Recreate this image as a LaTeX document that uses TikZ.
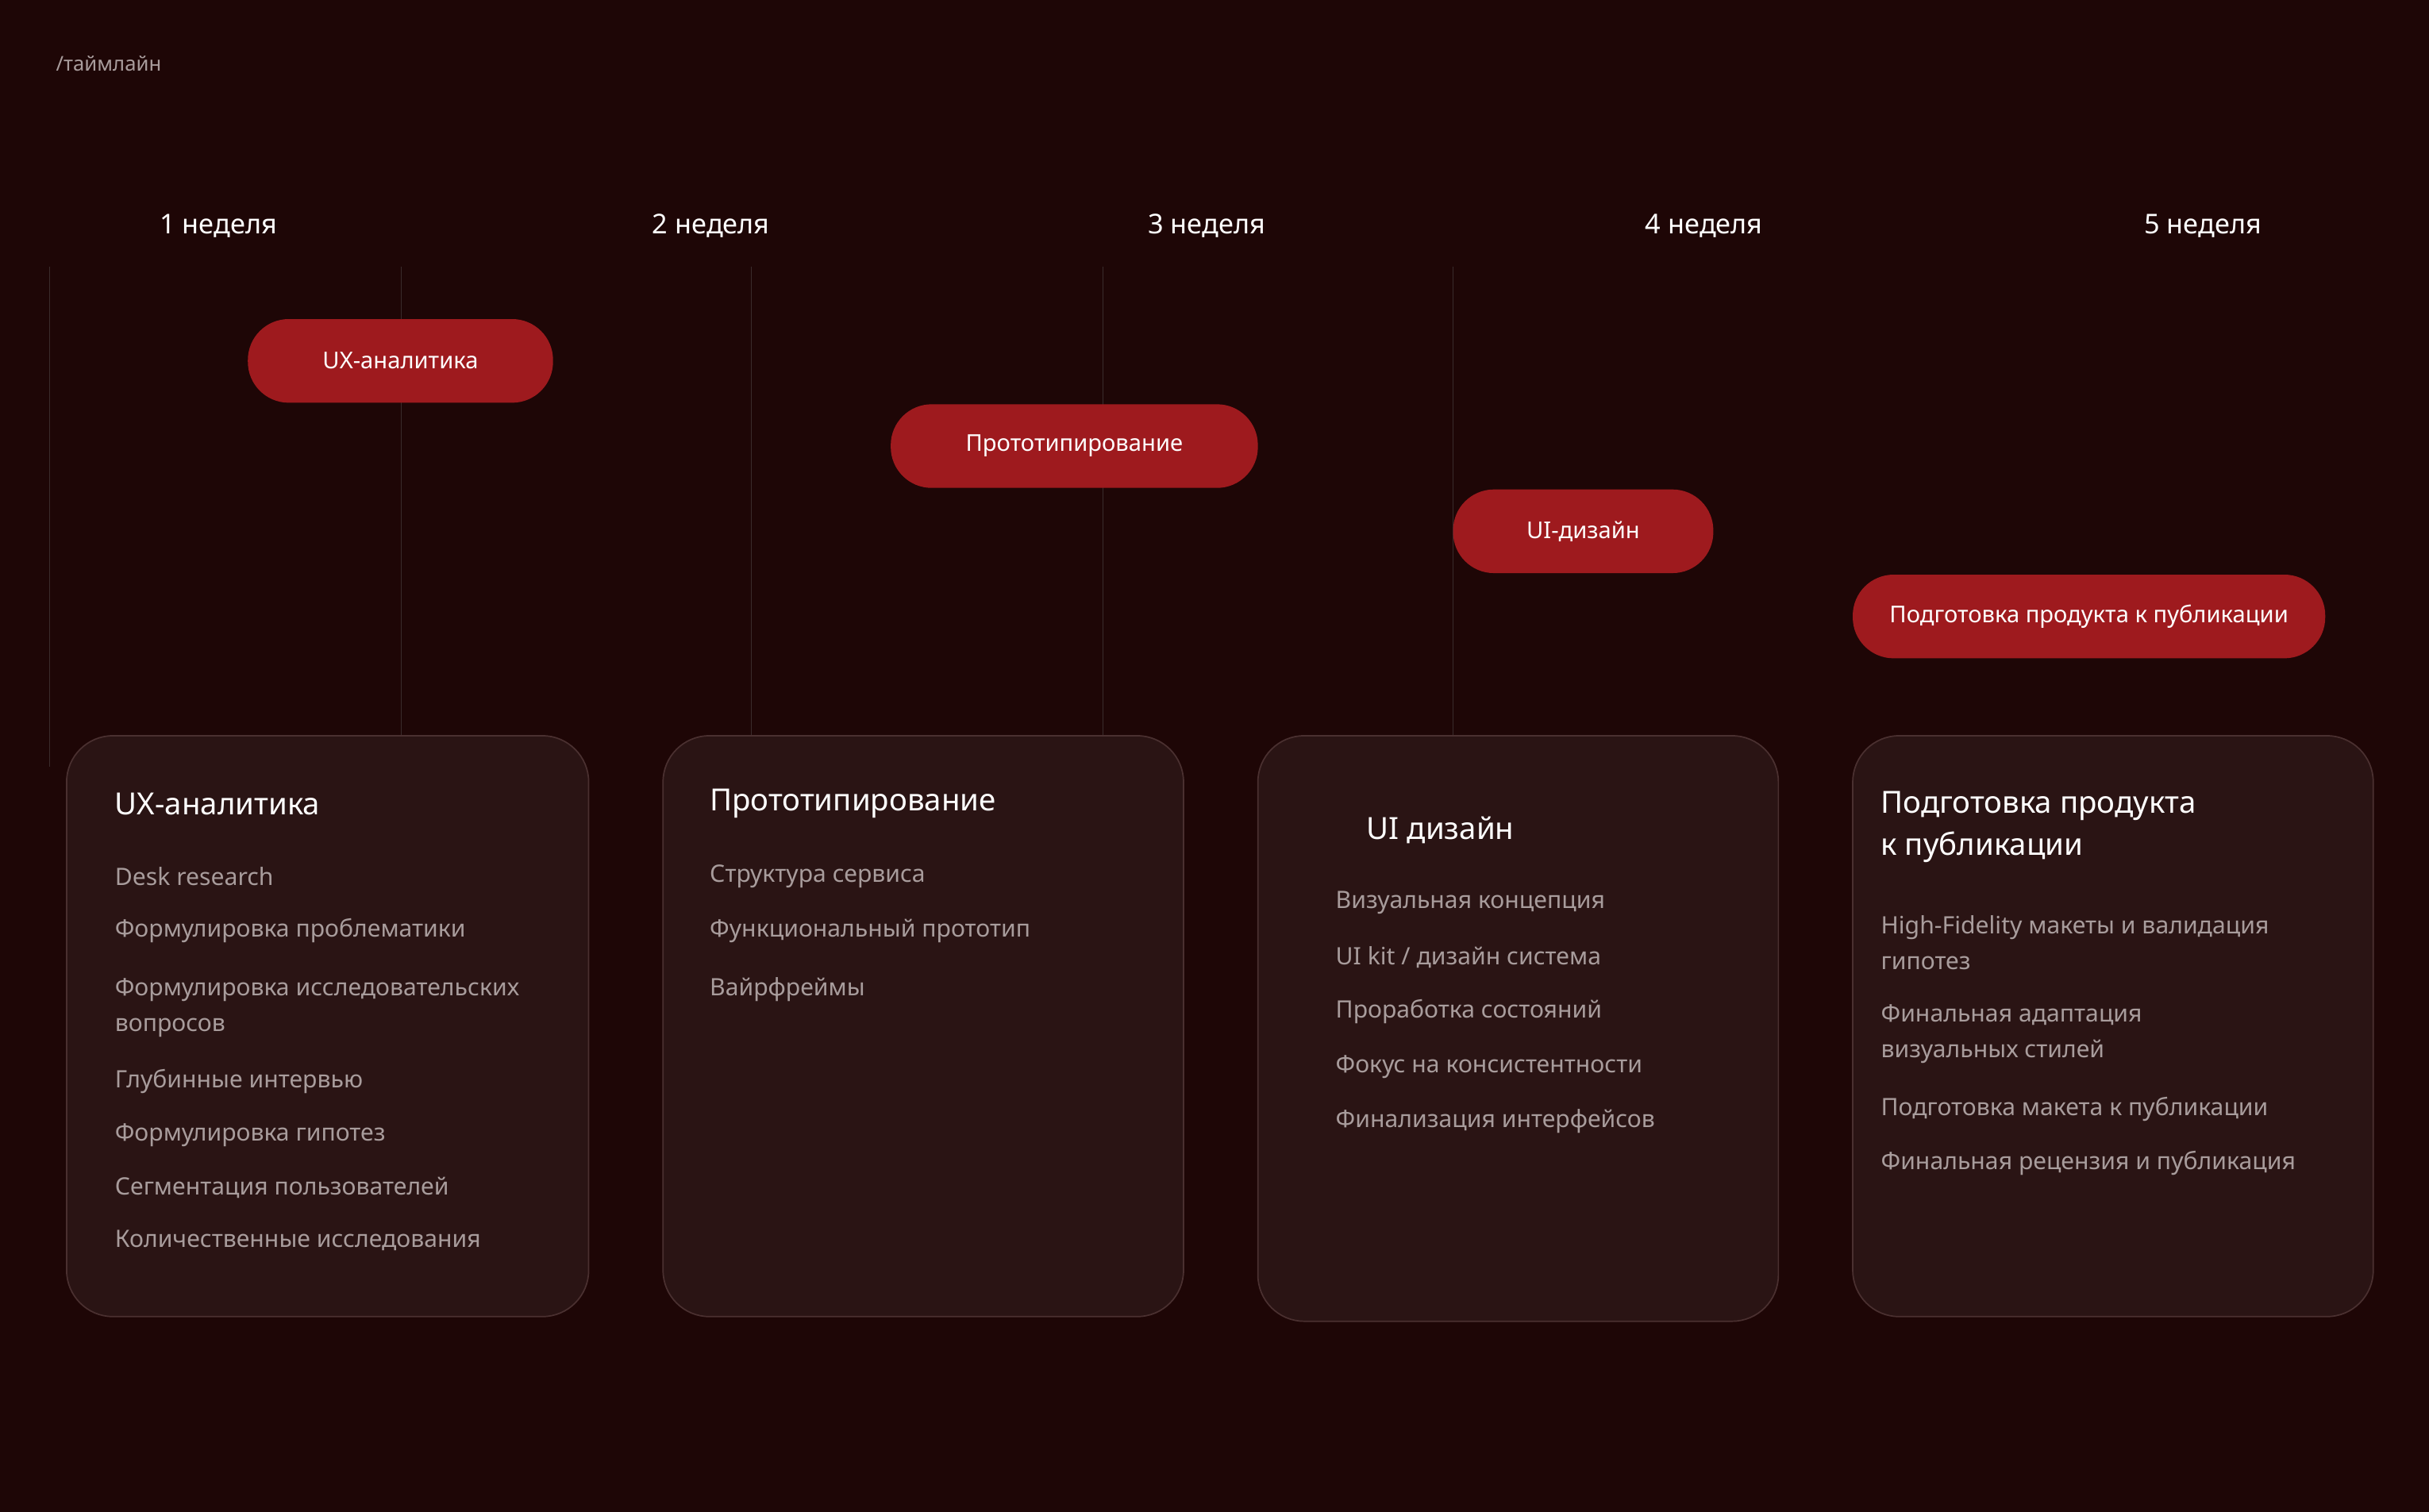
\documentclass[tikz,border=0pt]{standalone}
\usepackage{fontspec}
\setmainfont{Noto Sans}
\usetikzlibrary{positioning}
\definecolor{bgdark}{HTML}{1E0606}
\definecolor{cardfill}{HTML}{2A1414}
\definecolor{cardedge}{HTML}{4A3030}
\definecolor{pillred}{HTML}{9E1A1E}
\definecolor{itemgray}{HTML}{A89C9C}
\definecolor{guide}{HTML}{3A2C2C}
\tikzset{
  week/.style={text=white, font=\fontsize{10}{12}\selectfont},
  pill/.style={fill=pillred, rounded corners=15pt, text=white,
    font=\fontsize{8.5}{10}\selectfont, inner sep=0pt},
  card/.style={fill=cardfill, draw=cardedge, line width=0.5pt, rounded corners=17pt},
  cardtitle/.style={anchor=west, text=white, align=left,
    font=\fontsize{11.2}{15.5}\selectfont},
  item/.style={anchor=west, text=itemgray, align=left,
    font=\fontsize{8.8}{13}\selectfont},
  guideline/.style={draw=guide, line width=0.5pt}
}
\begin{document}
\begin{tikzpicture}[x=0.2mm, y=-0.2mm]
  \fill[bgdark] (0,0) rectangle (1568,976);
  \useasboundingbox (0,0) rectangle (1568,976);
  \node[anchor=west, text=itemgray, font=\fontsize{7.5}{9}\selectfont] (tag) at (30,41) {/таймлайн};

  % weeks
  \foreach \n/\x in {1/141, 2/459, 3/779, 4/1100, 5/1422}
    \node[week] (w\n) at (\x,146) {\n\ неделя};

  % guides
  \foreach \x/\y in {32/495, 259/525, 485/500, 712/520, 938/500}
    \draw[guideline] (\x,172) -- (\x,\y);

  % pills
  \node[pill, minimum width=197*0.2mm, minimum height=54*0.2mm] (p1) at (258.5,233) {UX-аналитика};
  \node[pill, minimum width=237*0.2mm, minimum height=54*0.2mm] (p2) at (693.5,288) {Прототипирование};
  \node[pill, minimum width=168*0.2mm, minimum height=54*0.2mm] (p3) at (1022,343) {UI-дизайн};
  \node[pill, minimum width=305*0.2mm, minimum height=54*0.2mm] (p4) at (1348.5,398) {Подготовка продукта к публикации};

  % cards
  \draw[card] (43,475) rectangle (380,850);
  \draw[card] (428,475) rectangle (764,850);
  \draw[card] (812,475) rectangle (1148,853);
  \draw[card] (1196,475) rectangle (1532,850);

  % card 1
  \node[cardtitle] (t1) at (68,519) {UX-аналитика};
  \node[item] (a1) at (68,566) {Desk research};
  \node[item] (a2) at (68,601) {Формулировка проблематики};
  \node[item] (a3) at (68,650.5) {Формулировка исследовательских\\вопросов};
  \node[item] (a4) at (68,698) {Глубинные интервью};
  \node[item] (a5) at (68,733) {Формулировка гипотез};
  \node[item] (a6) at (68,767) {Сегментация пользователей};
  \node[item] (a7) at (68,801) {Количественные исследования};

  % card 2
  \node[cardtitle] (t2) at (452,519) {Прототипирование};
  \node[item] (b1) at (452,566) {Структура сервиса};
  \node[item] (b2) at (452,601) {Функциональный прототип};
  \node[item] (b3) at (452,639) {Вайрфреймы};

  % card 3
  \node[cardtitle] (t3) at (876,536) {UI дизайн};
  \node[item] (c1) at (856,583) {Визуальная концепция};
  \node[item] (c2) at (856,618) {UI kit / дизайн система};
  \node[item] (c3) at (856,653) {Проработка состояний};
  \node[item] (c4) at (856,689) {Фокус на консистентности};
  \node[item] (c5) at (856,724) {Финализация интерфейсов};

  % card 4
  \node[cardtitle] (t4) at (1208,534) {Подготовка продукта\\к публикации};
  \node[item] (d1) at (1208,608.5) {High-Fidelity макеты и валидация\\гипотез};
  \node[item] (d2) at (1208,667.5) {Финальная адаптация\\визуальных стилей};
  \node[item] (d3) at (1208,716) {Подготовка макета к публикации};
  \node[item] (d4) at (1208,751) {Финальная рецензия и публикация};
\end{tikzpicture}
\end{document}
